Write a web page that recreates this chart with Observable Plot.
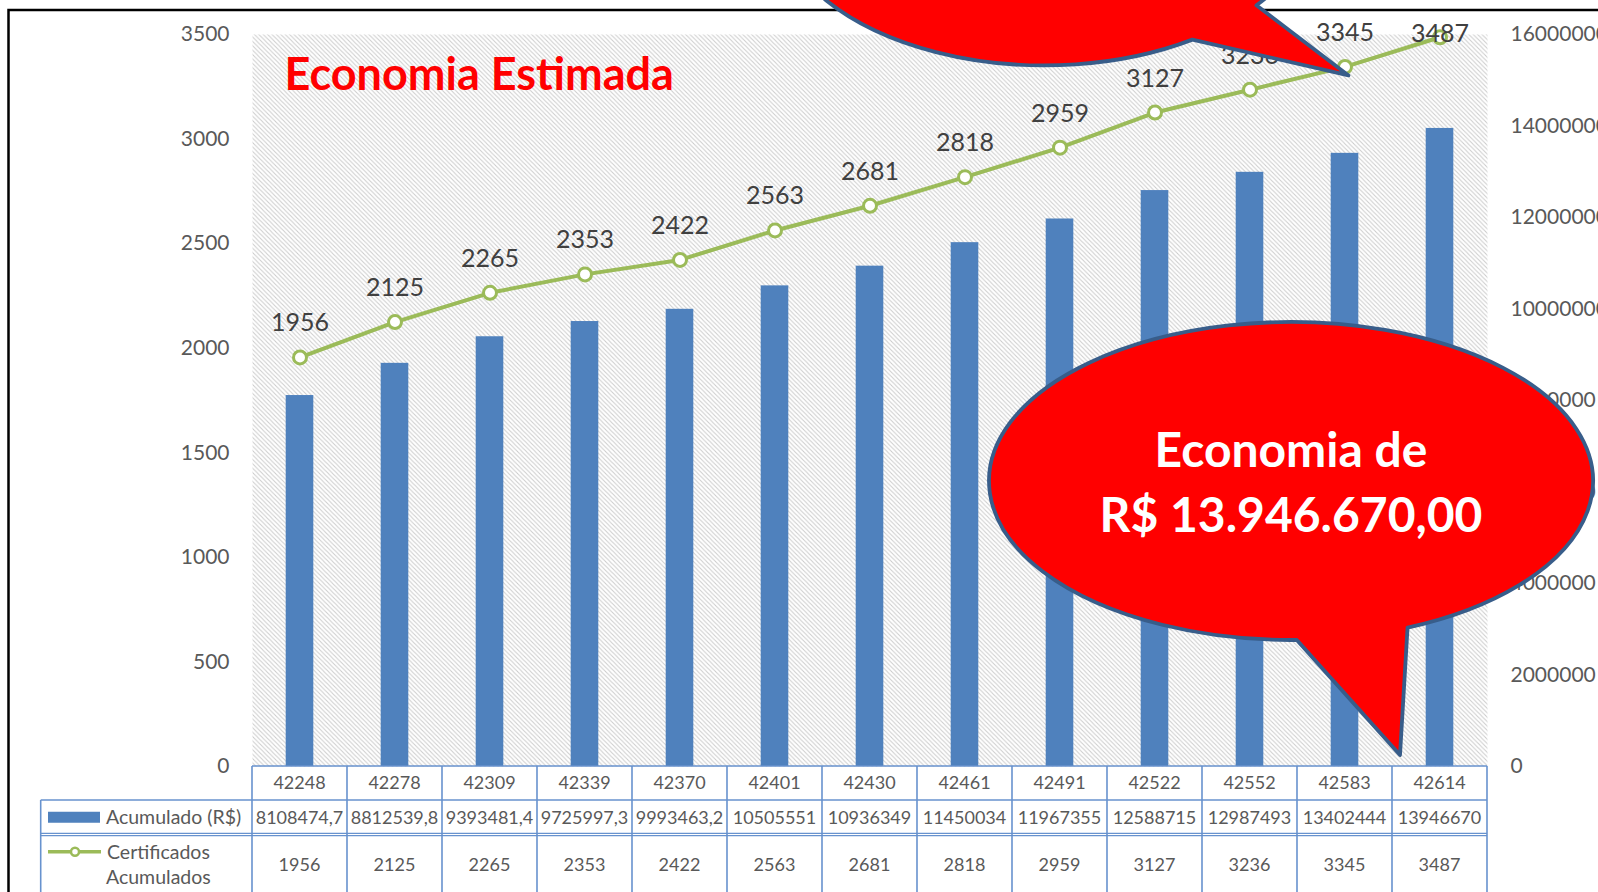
<!DOCTYPE html>
<html>
<head>
<meta charset="utf-8">
<script src="https://cdn.jsdelivr.net/npm/d3@7"></script>
<script src="https://cdn.jsdelivr.net/npm/@observablehq/plot@0.6"></script>
<style>
  html, body { margin: 0; padding: 0; background: #fff; overflow: hidden; }
  #chart svg { display: block; }
</style>
</head>
<body>
<div id="chart"></div>
<script>
// ---- data ----
const categories = ["42248","42278","42309","42339","42370","42401","42430","42461","42491","42522","42552","42583","42614"];
const acumulado = [8108474.7, 8812539.8, 9393481.4, 9725997.3, 9993463.2, 10505551, 10936349, 11450034, 11967355, 12588715, 12987493, 13402444, 13946670];
const certificados = [1956, 2125, 2265, 2353, 2422, 2563, 2681, 2818, 2959, 3127, 3236, 3345, 3487];
const leftTicks = [0, 500, 1000, 1500, 2000, 2500, 3000, 3500];
const rightTicks = [0, 2000000, 4000000, 6000000, 8000000, 10000000, 12000000, 14000000, 16000000];
const titleText = "Economia Estimada";
const calloutLines = ["Economia de", "R$ 13.946.670,00"];
const seriesBar = "Acumulado (R$)";
const seriesLine = ["Certificados", "Acumulados"];

const LEFT_MAX = 3500, RIGHT_MAX = 16000000;
const k = LEFT_MAX / RIGHT_MAX;
const rows = categories.map((c, i) => ({cat: c, acum: acumulado[i], cert: certificados[i]}));
const FONT = "Lato, 'Open Sans', sans-serif";
const GREEN = "#9BBB59", BLUE = "#4F81BD", GRID = "#6792CE", TXT = "#595959";

const chart = Plot.plot({
  width: 1598, height: 892,
  marginLeft: 252, marginRight: 111, marginTop: 34, marginBottom: 126,
  style: {fontFamily: FONT, background: "#fff", overflow: "hidden"},
  x: {type: "band", domain: categories, padding: 0, round: false, axis: null},
  y: {domain: [0, LEFT_MAX], axis: null},
  marks: [
    Plot.frame({fill: "#eeeeee"}),
    Plot.barY(rows, {x: "cat", y: d => d.acum * k, fill: BLUE, insetLeft: 33.7, insetRight: 33.7}),
    Plot.text(leftTicks, {y: d => d, text: d => String(d), frameAnchor: "left", dx: -23, textAnchor: "end", fontSize: 21, fill: TXT}),
    Plot.text(rightTicks, {y: d => d * k, text: d => String(d), frameAnchor: "right", dx: 23, textAnchor: "start", fontSize: 21, fill: TXT}),
    Plot.line(rows, {x: "cat", y: "cert", stroke: GREEN, strokeWidth: 4}),
    Plot.dot(rows, {x: "cat", y: "cert", r: 6.5, fill: "white", stroke: GREEN, strokeWidth: 3}),
    Plot.text(rows.slice(0, -1), {x: "cat", y: "cert", text: d => String(d.cert), dy: -34, fontSize: 25, fill: "#404040"}),
    Plot.text(rows.slice(-1), {x: "cat", y: "cert", text: d => String(d.cert), dy: -3, fontSize: 25, fill: "#404040"}),
    Plot.text([titleText], {text: d => d, frameAnchor: "top-left", dx: 32, dy: 24, lineAnchor: "top", textAnchor: "start", fontSize: 45, fontWeight: "bold", fill: "#FF0000"})
  ]
});
document.getElementById("chart").appendChild(chart);

// ---- post-render: hatch, data table, border, callouts ----
const svg = d3.select(chart);
const sx = chart.scale("x"), sy = chart.scale("y");
const xb = d3.scaleBand().domain(sx.domain).range(sx.range).padding(0);
const ys = d3.scaleLinear().domain(sy.domain).range(sy.range);
const bw = xb.bandwidth();
const xL = xb.range()[0], xR = xb.range()[1];

const defs = svg.insert("defs", ":first-child");
const P = 4.4;
const pat = defs.append("pattern").attr("id", "hatch").attr("patternUnits", "userSpaceOnUse").attr("width", P).attr("height", P);
pat.append("rect").attr("width", P).attr("height", P).attr("fill", "#fff");
pat.append("path").attr("d", `M-1,-1L${P+1},${P+1}M-1,${P-1}L1,${P+1}M${P-1},-1L${P+1},1`).attr("stroke", "#cdcdcd").attr("stroke-width", 1.05);
const fr = chart.querySelector('[aria-label="frame"]');
if (fr) { const r = fr.tagName.toLowerCase() === "rect" ? fr : fr.querySelector("rect"); if (r) r.setAttribute("fill", "url(#hatch)"); }

// table
const tY0 = ys(0), tY1 = tY0 + 34, tY2 = tY1 + 34.5, tYb = 900;
const labelLeft = 40.7;
const tg = svg.append("g").attr("font-family", FONT);
const line = (x1, y1, x2, y2, w = 1.6) => tg.append("line").attr("x1", x1).attr("y1", y1).attr("x2", x2).attr("y2", y2).attr("stroke", GRID).attr("stroke-width", w);
line(xL, tY0, xR, tY0);
line(labelLeft, tY1, xR, tY1);
line(labelLeft, tY2 - 1.2, xR, tY2 - 1.2, 1.2);
line(labelLeft, tY2 + 1.2, xR, tY2 + 1.2, 1.2);
line(labelLeft, tY1, labelLeft, tYb);
categories.forEach((c, i) => line(xb(c), tY0, xb(c), tYb));
line(xR, tY0, xR, tYb);

const cellText = (x, y, s, size = 18, anchor = "middle") => tg.append("text").attr("x", x).attr("y", y).attr("dy", "0.35em")
  .attr("text-anchor", anchor).attr("font-size", size).attr("fill", TXT).text(s);
rows.forEach(d => {
  const cx = xb(d.cat) + bw / 2;
  cellText(cx, (tY0 + tY1) / 2, d.cat);
  cellText(cx, (tY1 + tY2) / 2, String(d.acum).replace(".", ","));
  cellText(cx, 865, String(d.cert));
});
// legend keys + row labels
tg.append("rect").attr("x", 48).attr("y", (tY1 + tY2) / 2 - 5.5).attr("width", 52).attr("height", 11).attr("fill", BLUE);
cellText(106, (tY1 + tY2) / 2, seriesBar, 19.5, "start");
tg.append("line").attr("x1", 48).attr("x2", 101).attr("y1", 851.7).attr("y2", 851.7).attr("stroke", GREEN).attr("stroke-width", 3.5);
tg.append("circle").attr("cx", 75).attr("cy", 851.7).attr("r", 4).attr("fill", "#fff").attr("stroke", GREEN).attr("stroke-width", 2.5);
cellText(107, 851.7, seriesLine[0], 19.5, "start");
cellText(106, 876.7, seriesLine[1], 19.5, "start");

// chart area border
svg.append("path").attr("d", "M8.5,900V10H1600").attr("fill", "none").attr("stroke", "#000").attr("stroke-width", 2.5);

// callouts (anchored to the chart's scales)
function callout(tip, c, rx, ry, aL, aR) {
  const rad = Math.PI / 180;
  const pL = [c[0] + rx * Math.cos(aL * rad), c[1] + ry * Math.sin(aL * rad)];
  const pR = [c[0] + rx * Math.cos(aR * rad), c[1] + ry * Math.sin(aR * rad)];
  const d = `M${pL}L${tip}L${pR}A${rx},${ry} 0 1 0 ${pL}Z`;
  svg.append("path").attr("d", d).attr("fill", "#FF0000").attr("stroke", "#385D8A").attr("stroke-width", 3.8).attr("stroke-linejoin", "round");
}
// top callout: tip at the 3345 point
const tipTop = [xb("42583") + bw / 2 + 4, ys(3345) + 9];
callout(tipTop, [tipTop[0] - 304, tipTop[1] - 168], 270, 158, 56.8, 38.3);
// bottom callout: tip near the base, between the last two bars
const tipBot = [xb("42614") + 8, ys(0) - 11];
const cBot = [tipBot[0] - 109, tipBot[1] - 274];
callout(tipBot, cBot, 302, 159, 88.9, 67.3);
const ct = svg.append("g").attr("font-family", FONT).attr("font-weight", "bold").attr("font-size", 48).attr("fill", "#fff").attr("text-anchor", "middle");
ct.append("text").attr("x", cBot[0]).attr("y", cBot[1] - 31).attr("dy", "0.36em").text(calloutLines[0]);
ct.append("text").attr("x", cBot[0]).attr("y", cBot[1] + 34).attr("dy", "0.36em").text(calloutLines[1]);
</script>
</body>
</html>
